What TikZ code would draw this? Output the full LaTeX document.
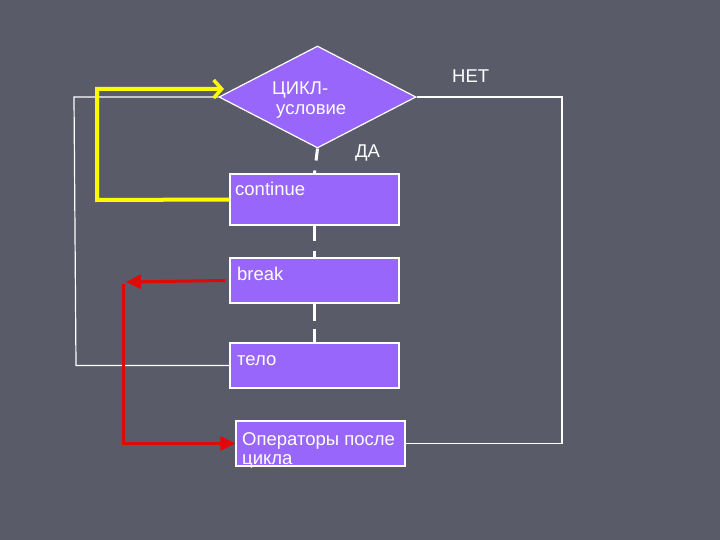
\documentclass[tikz,border=0pt]{standalone}
\usepackage{fontspec}
\setmainfont{Liberation Sans}
\usetikzlibrary{shapes.geometric,arrows.meta,positioning}
\definecolor{slide}{RGB}{89,91,105}
\definecolor{lilac}{RGB}{152,102,250}
\definecolor{loopred}{RGB}{226,8,8}
\definecolor{loopyellow}{RGB}{255,250,0}
\tikzset{
	block/.style={draw=white, line width=1.2pt, fill=lilac, rectangle, minimum width=169pt, minimum height=45pt, inner sep=0pt},
	txt/.style={text=white, font=\fontsize{18.5}{20}\selectfont, inner sep=0pt, anchor=base west},
	wire/.style={draw=white, line width=1.2pt},
}
\begin{document}
\begin{tikzpicture}[x=1pt,y=-1pt]
			\fill[slide] (0,0) rectangle (720,540);
			\useasboundingbox (0,0) rectangle (720,540);
			% blocks
			\node[diamond, draw=white, line width=1.2pt, fill=lilac, minimum width=197pt, minimum height=102pt, inner sep=0pt] (cond) at (317.5,97) {};
			\node[block, minimum height=51pt] (cont) at (314.5,199.5) {};
			\node[block] (brk) at (314.5,280.5) {};
			\node[block] (body) at (314.5,365.5) {};
			\node[block] (after) at (320.5,443.5) {};
			\coordinate (ltop) at (74,97);
			\coordinate (lbot) at (76,365.5);
			\coordinate (rtop) at (562,97);
			\coordinate (rbot) at (562,443.5);
			\coordinate (ytop) at (97,89);
			\coordinate (ybot) at (97,200);
			\coordinate (ytip) at (224,89);
			\coordinate (rtip) at (126,282);
			\coordinate (rtop2) at (123,284);
			\coordinate (rbot2) at (123,443.5);
			% lines
			\draw[white, line width=3pt, dash pattern=on 12pt off 10pt] (cond.south)--(cont.north);
			\draw[white, line width=3pt, dash pattern=on 15pt off 10pt] (cont.south)--(brk.north);
			\draw[white, line width=3pt, dash pattern=on 17pt off 8pt] (brk.south)--(body.north);
			\draw[wire] (body.west)--(lbot)--(ltop)--(cond.west);
			\draw[wire] (cond.east)--(rtop)--(rbot)--(after.east);
			\draw[loopyellow, line width=4pt, -{Straight Barb[length=8pt,width=18pt,line width=3.5pt]}] (cont.west)--(ybot)--(ytop)--(ytip);
			\draw[loopred, line width=3pt, -{Triangle[length=15pt,width=14pt]}] ([xshift=-4pt]brk.west)--(rtip);
			\draw[loopred, line width=3pt, -{Triangle[length=15pt,width=14pt]}] (rtop2)--(rbot2)--(after.west);
			% texts
			\node[txt] (c1) at (272,95) {ЦИКЛ-};
			\node[txt] (c2) at (276,115) {условие};
			\node[txt] (yes) at (355,158) {ДА};
			\node[txt] (no) at (452,83) {НЕТ};
			\node[txt] (t1) at (235,196) {continue};
			\node[txt] (t2) at (237,280) {break};
			\node[txt] (t3) at (237,365) {тело};
			\node[txt] (t4) at (242,445) {Операторы после};
			\node[txt] (t5) at (242,464) {цикла};
		\end{tikzpicture}
\end{document}
